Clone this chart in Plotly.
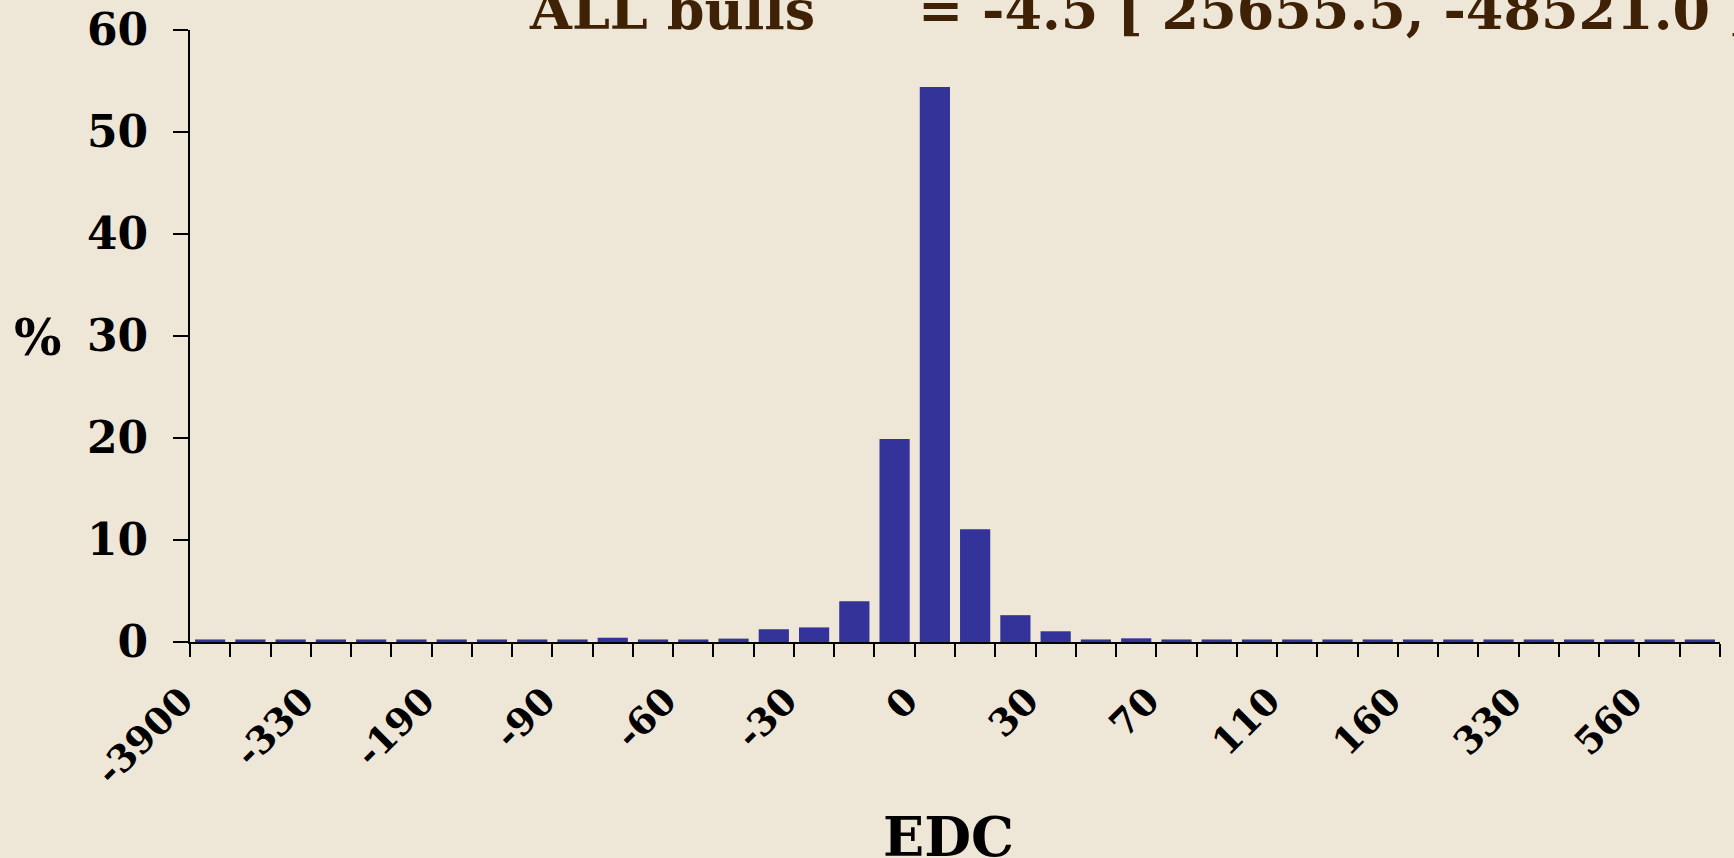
import plotly.graph_objects as go

# Percent of bulls per EDC bin (38 bins, left to right)
pct = [0.25, 0.25, 0.25, 0.25, 0.25, 0.25, 0.25, 0.25, 0.25, 0.25,
       0.42, 0.25, 0.25, 0.33, 1.25, 1.43, 4.0, 19.9, 54.4, 11.05,
       2.63, 1.05, 0.25, 0.36, 0.25, 0.25, 0.25, 0.25, 0.25, 0.25,
       0.25, 0.25, 0.25, 0.25, 0.25, 0.25, 0.25, 0.25]
# Visible tick labels (every third bin)
tick_labels = ["-3900", "-330", "-190", "-90", "-60", "-30", "0",
               "30", "70", "110", "160", "330", "560"]
tick_step = 3
title_left = "ALL bulls"
title_right = "= -4.5 [ 25655.5, -48521.0 ]"

n = len(pct)
bins = list(range(n))
tickvals = [i * tick_step for i in range(len(tick_labels))]
boundaries = [i - 0.5 for i in range(n + 1)]

W, H = 1734, 858
L, R, T, B = 190, 14, 30, 216
pw, ph = W - L - R, H - T - B

def px_x(x):
    return (x - L) / pw

def px_y(y):
    return (H - B - y) / ph

serif = "DejaVu Serif"

fig = go.Figure(go.Bar(x=bins, y=pct, marker=dict(color="#333399", line=dict(width=0))))

fig.update_layout(
    width=W, height=H,
    margin=dict(l=L, r=R, t=T, b=B, autoexpand=False),
    paper_bgcolor="#EEE6D6",
    plot_bgcolor="rgba(0,0,0,0)",
    bargap=0.25,
    showlegend=False,
    xaxis=dict(
        range=[-0.5, n - 0.5], automargin=False,
        tickmode="array", tickvals=tickvals, ticktext=tick_labels,
        tickangle=-45, ticks="",
        ticklabelstandoff=20, ticklabelshift=-28,
        tickfont=dict(family=serif, size=37, color="black", weight="bold"),
        showline=True, linecolor="black", linewidth=2,
        showgrid=False, zeroline=False,
        minor=dict(tickmode="array", tickvals=boundaries, ticks="outside",
                   ticklen=13, tickwidth=2, tickcolor="black", showgrid=False),
    ),
    yaxis=dict(
        range=[0, 60], dtick=10, tickmode="linear", tick0=0, automargin=False,
        ticks="outside", ticklen=15, tickwidth=2, tickcolor="black",
        ticklabelstandoff=16,
        tickfont=dict(family=serif, size=44, color="black", weight="bold"),
        showline=True, linecolor="black", linewidth=2,
        showgrid=False, zeroline=False,
    ),
    annotations=[
        dict(text=title_left, xref="paper", yref="paper",
             x=px_x(527), y=px_y(10), xanchor="left", yanchor="middle",
             showarrow=False,
             font=dict(family=serif, size=54, color="#3F2206", weight="bold")),
        dict(text=title_right, xref="paper", yref="paper",
             x=px_x(916), y=px_y(10), xanchor="left", yanchor="middle",
             showarrow=False,
             font=dict(family=serif, size=54, color="#3F2206", weight="bold")),
        dict(text="%", xref="paper", yref="paper",
             x=px_x(38), y=px_y(337), xanchor="center", yanchor="middle",
             showarrow=False,
             font=dict(family=serif, size=50, color="black", weight="bold")),
        dict(text="EDC", xref="paper", yref="paper",
             x=px_x(948), y=px_y(837), xanchor="center", yanchor="middle",
             showarrow=False,
             font=dict(family=serif, size=54, color="black", weight="bold")),
    ],
)

fig.write_html("out.html", config={"displayModeBar": False},
               post_script="document.body.style.margin='0';document.body.style.overflow='hidden';")
